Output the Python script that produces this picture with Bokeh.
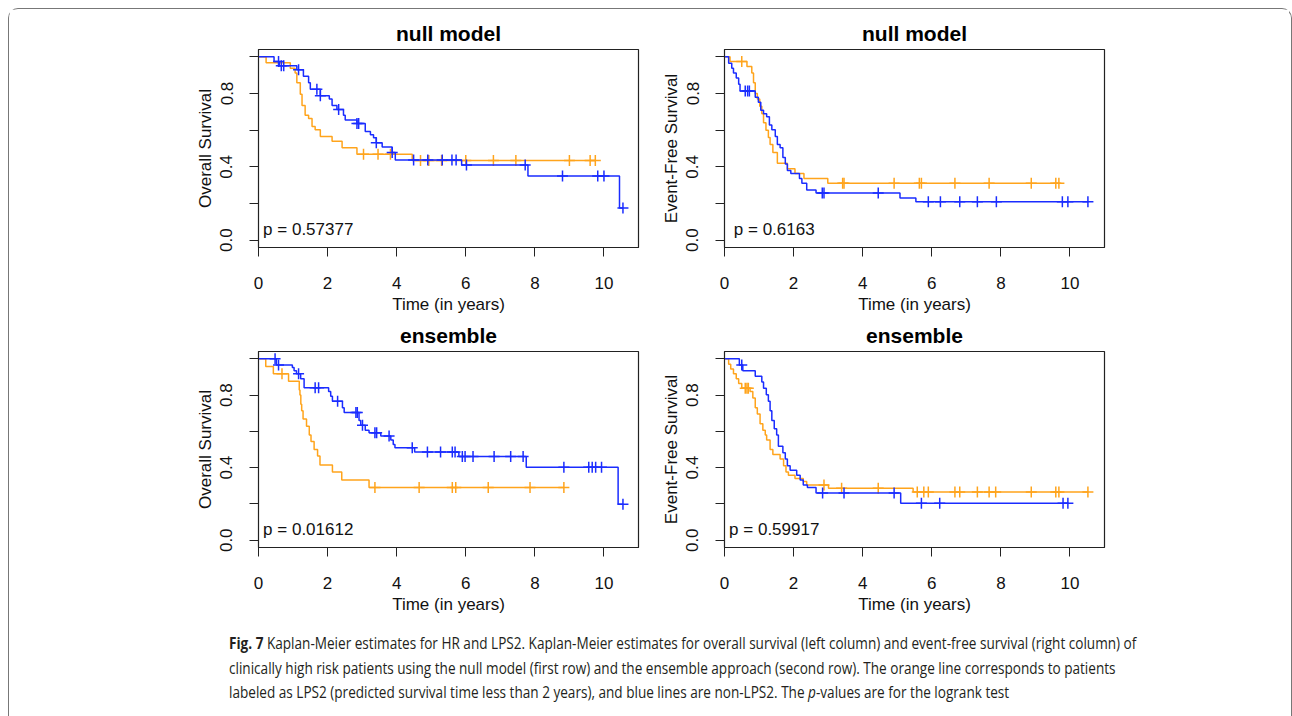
from bokeh.plotting import figure
from bokeh.layouts import column, row
from bokeh.models import Range1d, FixedTicker, Div
from bokeh.core.properties import value
from bokeh.embed import file_html
from bokeh.resources import INLINE

ORANGE = "#FFA41C"
BLUE = "#1a2cff"
FONT = "Liberation Sans"

# ---------------- data ----------------
# Panel A: overall survival, null model
os_null_lps2_time = [0.22, 0.92, 1.06, 1.11, 1.21, 1.26, 1.35, 1.45, 1.55, 1.64, 1.79, 2.13, 2.42, 2.85, 4.45]
os_null_lps2_surv = [0.968, 0.938, 0.912, 0.858, 0.796, 0.735, 0.681, 0.664, 0.620, 0.602, 0.566, 0.540, 0.504, 0.469, 0.435]
os_null_lps2_cens = [3.04, 3.46, 3.82, 4.69, 4.93, 5.30, 6.00, 6.80, 7.45, 9.00, 9.60, 9.75]
os_null_non_time = [0.45, 0.60, 1.11, 1.30, 1.45, 1.50, 1.79, 2.05, 2.13, 2.27, 2.46, 2.51, 2.85, 3.09, 3.24, 3.33,
                    3.41, 3.58, 3.87, 3.96, 5.88, 7.80, 10.45]
os_null_non_surv = [0.975, 0.951, 0.929, 0.894, 0.858, 0.823, 0.788, 0.770, 0.735, 0.713, 0.681, 0.655, 0.637, 0.593,
                    0.575, 0.558, 0.531, 0.508, 0.478, 0.437, 0.410, 0.350, 0.175]
os_null_non_cens = [0.58, 0.66, 0.73, 1.16, 1.69, 1.79, 2.32, 2.85, 2.90, 3.41, 3.87, 4.49, 4.90, 5.32, 5.60, 5.72,
                    6.02, 7.72, 8.80, 9.82, 10.00, 10.55]

# Panel B: event-free survival, null model
efs_null_lps2_time = [0.16, 0.65, 0.79, 0.84, 0.89, 0.95, 1.02, 1.08, 1.13, 1.20, 1.27, 1.32, 1.40, 1.53, 1.82, 2.04,
                      2.30, 2.99]
efs_null_lps2_surv = [0.974, 0.947, 0.912, 0.858, 0.800, 0.770, 0.730, 0.690, 0.640, 0.600, 0.560, 0.522, 0.478, 0.419,
                      0.389, 0.363, 0.336, 0.310]
efs_null_lps2_cens = [0.50, 3.42, 3.46, 4.91, 5.64, 5.70, 6.67, 7.66, 8.88, 9.59, 9.68]
efs_null_non_time = [0.12, 0.21, 0.26, 0.34, 0.41, 0.45, 0.89, 0.98, 1.05, 1.13, 1.22, 1.30, 1.37, 1.47, 1.53, 1.61,
                     1.69, 1.76, 1.82, 1.92, 2.17, 2.24, 2.38, 2.65, 5.08, 5.54]
efs_null_non_surv = [0.965, 0.938, 0.912, 0.885, 0.850, 0.814, 0.779, 0.752, 0.708, 0.690, 0.673, 0.628, 0.602, 0.566,
                     0.522, 0.504, 0.451, 0.416, 0.380, 0.363, 0.336, 0.310, 0.274, 0.257, 0.230, 0.209]
efs_null_non_cens = [0.60, 0.67, 0.72, 2.83, 2.88, 4.45, 5.90, 6.25, 6.81, 7.32, 7.87, 9.78, 9.94, 10.52]

# Panel C: overall survival, ensemble
os_ens_lps2_time = [0.21, 0.43, 0.87, 1.18, 1.20, 1.225, 1.25, 1.29, 1.39, 1.47, 1.52, 1.61, 1.71, 1.78, 2.14, 2.41, 3.20]
os_ens_lps2_surv = [0.957, 0.917, 0.876, 0.828, 0.800, 0.750, 0.713, 0.668, 0.628, 0.580, 0.544, 0.500, 0.464, 0.415,
                    0.376, 0.332, 0.291]
os_ens_lps2_cens = [0.68, 3.37, 4.65, 5.61, 5.71, 6.65, 7.86, 8.84]
os_ens_non_time = [0.52, 0.98, 1.03, 1.10, 1.22, 1.32, 2.03, 2.09, 2.14, 2.43, 2.48, 2.91, 2.96, 3.09, 3.20, 3.54,
                   3.83, 3.90, 3.95, 4.52, 5.80, 7.75, 10.41]
os_ens_non_surv = [0.965, 0.952, 0.934, 0.917, 0.890, 0.840, 0.819, 0.793, 0.766, 0.730, 0.704, 0.660, 0.633, 0.606,
                   0.592, 0.574, 0.553, 0.527, 0.509, 0.486, 0.461, 0.402, 0.198]
os_ens_non_cens = [0.48, 0.58, 1.16, 1.64, 1.74, 2.29, 2.82, 2.86, 3.01, 3.37, 3.42, 3.78, 4.45, 4.89, 5.27, 5.61,
                   5.69, 5.90, 5.98, 6.21, 6.82, 7.30, 7.66, 8.84, 9.56, 9.66, 9.76, 9.93, 10.55]

# Panel D: event-free survival, ensemble
efs_ens_lps2_time = [0.12, 0.18, 0.26, 0.34, 0.41, 0.50, 0.74, 0.82, 0.89, 0.95, 1.03, 1.11, 1.18, 1.22, 1.32, 1.40,
                     1.61, 1.71, 1.78, 1.85, 2.04, 2.28, 2.38, 3.01, 5.46]
efs_ens_lps2_surv = [0.970, 0.943, 0.917, 0.890, 0.863, 0.837, 0.820, 0.784, 0.730, 0.695, 0.642, 0.606, 0.580, 0.553,
                     0.500, 0.473, 0.447, 0.411, 0.376, 0.358, 0.340, 0.323, 0.305, 0.287, 0.266]
efs_ens_lps2_cens = [0.60, 0.65, 0.69, 2.88, 3.39, 4.45, 5.58, 5.77, 5.90, 6.67, 6.81, 7.32, 7.66, 7.85, 8.88, 9.59,
                     9.68, 10.52]
efs_ens_non_time = [0.43, 0.53, 0.89, 1.08, 1.13, 1.21, 1.27, 1.32, 1.37, 1.44, 1.51, 1.56, 1.69, 1.76, 1.82, 1.90,
                    2.09, 2.19, 2.28, 2.40, 2.65, 5.10]
efs_ens_non_surv = [0.965, 0.934, 0.904, 0.872, 0.837, 0.801, 0.766, 0.713, 0.660, 0.615, 0.580, 0.518, 0.482, 0.447,
                    0.411, 0.385, 0.358, 0.332, 0.305, 0.291, 0.260, 0.204]
efs_ens_non_cens = [0.50, 2.84, 3.46, 4.91, 5.70, 6.23, 9.80, 9.94]

titles = ["null model", "null model", "ensemble", "ensemble"]
ylabels = ["Overall Survival", "Event-Free Survival", "Overall Survival", "Event-Free Survival"]
pvalues = ["p = 0.57377", "p = 0.6163", "p = 0.01612", "p = 0.59917"]
x_ticks = [0, 2, 4, 6, 8, 10]
y_ticks = [0.0, 0.2, 0.4, 0.6, 0.8, 1.0]
y_tick_labels = {0: "0.0", 0.2: "", 0.4: "0.4", 0.6: "", 0.8: "0.8", 1: ""}


def surv_at(t, times, surv):
    s = 1.0
    for ti, si in zip(times, surv):
        if ti <= t:
            s = si
    return s


def add_curve(p, times, surv, cens, color):
    end = max(times[-1], cens[-1] if cens else 0)
    xs = [0.0] + list(times) + [end]
    ys = [1.0] + list(surv) + [surv[-1]]
    p.step(xs, ys, mode="after", line_color=color, line_width=1.5)
    cy = [surv_at(t, times, surv) for t in cens]
    p.scatter(cens, cy, marker="cross", size=11, line_color=color, line_width=1.5)


def make_panel(idx, curves, top_row, left_col):
    if left_col:
        w, bl, br = 641, 249, 12
    else:
        w, bl, br = 639, 74, 185
    if top_row:
        h, bt, bb = 307, 40, 64
    else:
        h, bt, bb = 300, 33, 65
    p = figure(width=w, height=h, x_range=Range1d(0, 11.0), y_range=Range1d(-0.04, 1.04),
               output_backend="svg", toolbar_location=None, title=titles[idx],
               min_border_left=bl, min_border_right=br, min_border_top=bt, min_border_bottom=bb)
    p.title.text_font = FONT
    p.title.text_font_size = "21px"
    p.title.text_font_style = "bold"
    p.title.text_color = "#000000"
    p.title.align = "center"
    p.title.standoff = 10
    p.grid.visible = False
    p.outline_line_color = "#222222"
    p.outline_line_width = 1.2
    p.background_fill_color = "white"
    p.border_fill_color = "white"

    for ax in (p.xaxis[0], p.yaxis[0]):
        ax.major_tick_in = 0
        ax.major_tick_out = 9
        ax.minor_tick_line_color = None
        ax.axis_line_color = "#222222"
        ax.major_tick_line_color = "#222222"
        ax.major_label_text_font = FONT
        ax.major_label_text_font_size = "17px"
        ax.major_label_text_color = "#111111"
        ax.axis_label_text_font = FONT
        ax.axis_label_text_font_size = "17px"
        ax.axis_label_text_font_style = "normal"
        ax.axis_label_text_color = "#111111"
    xa = p.xaxis[0]
    xa.ticker = FixedTicker(ticks=x_ticks)
    xa.axis_label = "Time (in years)"
    xa.major_label_standoff = 20
    xa.axis_label_standoff = 3
    ya = p.yaxis[0]
    ya.ticker = FixedTicker(ticks=y_ticks)
    ya.major_label_overrides = y_tick_labels
    ya.major_label_orientation = "vertical"
    ya.major_label_standoff = 17
    ya.axis_label = ylabels[idx]
    ya.axis_label_standoff = 3

    for times, surv, cens, color in curves:
        add_curve(p, times, surv, cens, color)

    p.text(x=[1.44], y=[0.058], text=[pvalues[idx]], text_font=value(FONT), text_font_size="17px",
           text_align="center", text_baseline="middle", text_color="#111111")
    return p


pA = make_panel(0, [(os_null_lps2_time, os_null_lps2_surv, os_null_lps2_cens, ORANGE),
                    (os_null_non_time, os_null_non_surv, os_null_non_cens, BLUE)], True, True)
pB = make_panel(1, [(efs_null_lps2_time, efs_null_lps2_surv, efs_null_lps2_cens, ORANGE),
                    (efs_null_non_time, efs_null_non_surv, efs_null_non_cens, BLUE)], True, False)
pC = make_panel(2, [(os_ens_lps2_time, os_ens_lps2_surv, os_ens_lps2_cens, ORANGE),
                    (os_ens_non_time, os_ens_non_surv, os_ens_non_cens, BLUE)], False, True)
pD = make_panel(3, [(efs_ens_lps2_time, efs_ens_lps2_surv, efs_ens_lps2_cens, ORANGE),
                    (efs_ens_non_time, efs_ens_non_surv, efs_ens_non_cens, BLUE)], False, False)

caption_html = (
    '<div style="margin-left:215px; padding-top:10px; font-family:\'Open Sans\'; font-size:16.6px; '
    'line-height:24.5px; color:#231f20; white-space:nowrap; display:inline-block; '
    'transform:scaleX(0.818); transform-origin:0 0;">'
    '<b>Fig. 7</b> Kaplan-Meier estimates for HR and LPS2. Kaplan-Meier estimates for overall survival '
    '(left column) and event-free survival (right column) of<br>'
    'clinically high risk patients using the null model (first row) and the ensemble approach (second row). '
    'The orange line corresponds to patients<br>'
    'labeled as LPS2 (predicted survival time less than 2 years), and blue lines are non-LPS2. '
    'The <i>p</i>-values are for the logrank test</div>'
)
caption = Div(text=caption_html, width=1272, height=100)

layout = column(row(pA, pB), row(pC, pD), caption,
                styles={"margin-left": "8px", "margin-top": "8px",
                        "border-top": "1px solid #777", "border-left": "1px solid #777",
                        "border-right": "1px solid #777", "border-top-left-radius": "10px",
                        "border-top-right-radius": "10px"})

open("out.html", "w").write(file_html(layout, INLINE))
